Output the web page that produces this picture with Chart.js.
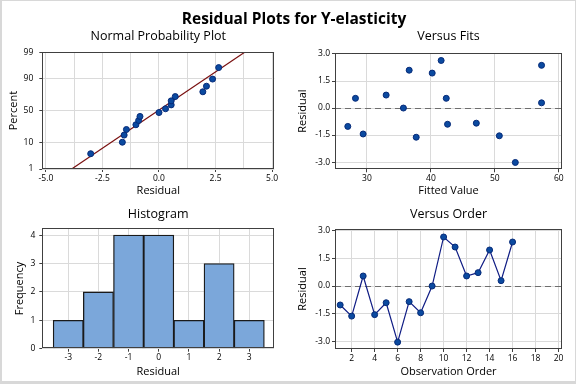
<!DOCTYPE html>
<html>
<head>
<meta charset="utf-8">
<script src="https://cdn.jsdelivr.net/npm/chart.js@4.4.1/dist/chart.umd.min.js"></script>
<style>
  html, body { margin: 0; padding: 0; background: #fff; }
  #wrap { position: relative; width: 576px; height: 384px; overflow: hidden; font-family: 'Open Sans', sans-serif; }
  #frame { position: absolute; left: 0; top: 0; width: 576px; height: 384px; box-sizing: border-box;
           border: 1px solid #d8d8d8; border-left-width: 2px; border-bottom-width: 3px; pointer-events: none; }
  #title { position: absolute; left: 6px; top: 9px; width: 576px; text-align: center;
           font-size: 15.5px; font-weight: bold; line-height: 18px; color: #000; }
  canvas { position: absolute; }
</style>
</head>
<body>
<div id="wrap">
  <canvas id="normChart" width="288" height="200" style="left:0;top:0"></canvas>
  <canvas id="fitsChart" width="288" height="200" style="left:288px;top:0"></canvas>
  <canvas id="histChart" width="288" height="190" style="left:0;top:194px"></canvas>
  <canvas id="orderChart" width="288" height="190" style="left:288px;top:194px"></canvas>
  <div id="title">Residual Plots for Y-elasticity</div>
  <div id="frame"></div>
</div>
<script>
// residuals in observation order, and the fitted value of each observation
const observation = [1, 2, 3, 4, 5, 6, 7, 8, 9, 10, 11, 12, 13, 14, 15, 16];
const residuals = [-1.02, -1.62, 0.54, -1.54, -0.90, -3.02, -0.84, -1.44, 0.00, 2.64, 2.10, 0.54, 0.72, 1.94, 0.29, 2.37];
const fitted = [27.0, 37.7, 28.2, 50.7, 42.6, 53.2, 47.1, 29.4, 35.7, 41.6, 36.6, 42.4, 33.0, 40.2, 57.3, 57.3];

// normal probability plot: percent of each sorted residual, and the fitted line
const normPercent = [4.3, 10.4, 16.5, 22.6, 28.7, 34.8, 40.9, 47.0, 53.0, 59.1, 65.2, 71.3, 77.4, 83.5, 89.6, 95.7];
const fitLineResid = [-3.9, 3.85];
const fitLinePercent = [0.94, 99.1];
const normYTicks = [1, 10, 50, 90, 99];
const normXTicks = [-5.0, -3.75, -2.5, -1.25, 0.0, 1.25, 2.5, 3.75, 5.0];

// histogram
const histMid = [-3, -2, -1, 0, 1, 2, 3];
const histCount = [1, 2, 4, 4, 1, 3, 1];
const histYTicks = [0, 1, 2, 3, 4];

const residTicks = [-3.0, -1.5, 0.0, 1.5, 3.0];
const fitsXTicks = [30, 40, 50, 60];
const orderXTicks = [2, 4, 6, 8, 10, 12, 14, 16, 18, 20];

Chart.defaults.font.family = "'Open Sans', sans-serif";
Chart.defaults.color = '#000';

// inverse of the normal cdf, for the probability axis
function probit(pct) {
  const p = pct / 100;
  const a = [-39.69683028665376, 220.9460984245205, -275.9285104469687, 138.3577518672690, -30.66479806614716, 2.506628277459239];
  const b = [-54.47609879822406, 161.5858368580409, -155.6989798598866, 66.80131188771972, -13.28068155288572];
  const c = [-7.784894002430293e-03, -0.3223964580411365, -2.400758277161838, -2.549732539343734, 4.374664141464968, 2.938163982698783];
  const d = [7.784695709041462e-03, 0.3224671290700398, 2.445134137142996, 3.754408661907416];
  const pl = 0.02425;
  let q, r;
  if (p < pl) {
    q = Math.sqrt(-2 * Math.log(p));
    return (((((c[0]*q+c[1])*q+c[2])*q+c[3])*q+c[4])*q+c[5]) / ((((d[0]*q+d[1])*q+d[2])*q+d[3])*q+1);
  }
  if (p > 1 - pl) {
    q = Math.sqrt(-2 * Math.log(1 - p));
    return -(((((c[0]*q+c[1])*q+c[2])*q+c[3])*q+c[4])*q+c[5]) / ((((d[0]*q+d[1])*q+d[2])*q+d[3])*q+1);
  }
  q = p - 0.5; r = q * q;
  return (((((a[0]*r+a[1])*r+a[2])*r+a[3])*r+a[4])*r+a[5])*q / (((((b[0]*r+b[1])*r+b[2])*r+b[3])*r+b[4])*r+1);
}

// dark box round the plot area
const framePlugin = {
  id: 'frame',
  afterDraw(chart) {
    const { ctx, chartArea: a } = chart;
    ctx.save();
    ctx.strokeStyle = '#404040';
    ctx.lineWidth = 1;
    ctx.strokeRect(Math.round(a.left) + 0.5, Math.round(a.top) + 0.5, Math.round(a.width) - 1, Math.round(a.height) - 1);
    ctx.restore();
  }
};

// dashed reference line at residual 0
const zeroPlugin = {
  id: 'zero',
  beforeDatasetsDraw(chart) {
    const { ctx, chartArea: a, scales } = chart;
    const y = Math.round(scales.y.getPixelForValue(0)) + 0.5;
    ctx.save();
    ctx.strokeStyle = '#6e6e6e';
    ctx.lineWidth = 1.2;
    ctx.setLineDash([6, 4]);
    ctx.beginPath();
    ctx.moveTo(a.left, y);
    ctx.lineTo(a.right, y);
    ctx.stroke();
    ctx.restore();
  }
};

function axis(o) {
  return {
    type: 'linear',
    min: o.min,
    max: o.max,
    offset: false,
    border: { display: false },
    grid: {
      color: '#dadada',
      lineWidth: 1,
      tickLength: 3,
      offset: false,
      tickColor: o.tickColor || '#404040'
    },
    ticks: {
      autoSkip: false,
      maxRotation: 0,
      padding: o.tickPad,
      font: { size: 8.5 },
      callback: o.fmt
    },
    title: {
      display: true,
      text: o.title,
      font: { size: 11 },
      padding: o.titlePad
    },
    afterBuildTicks: s => { s.ticks = o.ticks.map(v => ({ value: v })); },
    afterFit: s => { if (o.width) s.width = o.width; if (o.height) s.height = o.height; }
  };
}

function panelTitle(text, top, bottom) {
  return {
    display: true,
    fullSize: false,
    text: text,
    color: '#000',
    font: { size: 12.5, weight: 'normal' },
    padding: { top: top, bottom: bottom }
  };
}

const pointStyle = {
  pointRadius: 3,
  pointHoverRadius: 3,
  pointBackgroundColor: '#0b4aa0',
  pointBorderColor: '#062a78',
  pointBorderWidth: 1
};

const sortedResid = [...residuals].sort((p, q) => p - q);

new Chart(document.getElementById('normChart'), {
  type: 'scatter',
  data: {
    datasets: [{
      data: fitLineResid.map((x, i) => ({ x: x, y: probit(fitLinePercent[i]) })),
      showLine: true,
      borderColor: '#7a1010',
      borderWidth: 1.2,
      pointRadius: 0,
      order: 2
    }, {
      data: sortedResid.map((x, i) => ({ x: x, y: probit(normPercent[i]) })),
      ...pointStyle,
      order: 1
    }]
  },
  options: {
    responsive: false,
    animation: false,
    devicePixelRatio: 1,
    layout: { padding: { left: 0, right: 13.7, top: 0, bottom: 0 } },
    plugins: {
      legend: { display: false },
      tooltip: { enabled: false },
      title: panelTitle('Normal Probability Plot', 28.6, 8.7)
    },
    scales: {
      x: axis({ min: -5.16, max: 5.1, ticks: normXTicks, title: 'Residual', height: 31, tickPad: 1,
                titlePad: { top: 0, bottom: 2.4 },
                fmt: v => (Math.abs(v) % 2.5 === 0 ? v.toFixed(1) : ''),
                tickColor: c => (Math.abs(c.tick.value) % 2.5 === 0 ? '#404040' : 'rgba(0,0,0,0)') }),
      y: axis({ min: probit(1), max: probit(99), ticks: normYTicks.map(probit), title: 'Percent', width: 42.3, tickPad: 6,
                titlePad: { top: 7, bottom: 0 },
                fmt: (v, i) => String(normYTicks[i]) })
    }
  },
  plugins: [framePlugin]
});

new Chart(document.getElementById('fitsChart'), {
  type: 'scatter',
  data: {
    datasets: [{
      data: fitted.map((x, i) => ({ x: x, y: residuals[i] })),
      ...pointStyle
    }]
  },
  options: {
    responsive: false,
    animation: false,
    devicePixelRatio: 1,
    layout: { padding: { left: 0, right: 14, top: 0, bottom: 0 } },
    plugins: {
      legend: { display: false },
      tooltip: { enabled: false },
      title: panelTitle('Versus Fits', 28.8, 9.2)
    },
    scales: {
      x: axis({ min: 25.0, max: 60.5, ticks: fitsXTicks, title: 'Fitted Value', height: 30.7, tickPad: 1,
                titlePad: { top: 0, bottom: 2.4 }, fmt: v => String(v) }),
      y: axis({ min: -3.4, max: 3.055, ticks: residTicks, title: 'Residual', width: 47, tickPad: 2,
                titlePad: { top: 8.2, bottom: 0 }, fmt: v => v.toFixed(1) })
    }
  },
  plugins: [zeroPlugin, framePlugin]
});

new Chart(document.getElementById('histChart'), {
  type: 'bar',
  data: {
    datasets: [{
      data: histMid.map((x, i) => ({ x: x, y: histCount[i] })),
      backgroundColor: '#7ba7da',
      borderColor: '#1a1a1a',
      borderWidth: 1.3,
      barPercentage: 1,
      categoryPercentage: 1
    }]
  },
  options: {
    responsive: false,
    animation: false,
    devicePixelRatio: 1,
    layout: { padding: { left: 0, right: 14, top: 0, bottom: 0 } },
    plugins: {
      legend: { display: false },
      tooltip: { enabled: false },
      title: panelTitle('Histogram', 13.1, 6.2)
    },
    scales: {
      x: axis({ min: -3.86, max: 3.82, ticks: histMid, title: 'Residual', height: 35.3, tickPad: 1,
                titlePad: { top: 0, bottom: 6 }, fmt: v => String(v) }),
      y: axis({ min: 0, max: 4.24, ticks: histYTicks, title: 'Frequency', width: 42.3, tickPad: 4,
                titlePad: { top: 13, bottom: 0 }, fmt: v => String(v) })
    }
  },
  plugins: [framePlugin]
});

new Chart(document.getElementById('orderChart'), {
  type: 'scatter',
  data: {
    datasets: [{
      data: observation.map((x, i) => ({ x: x, y: residuals[i] })),
      showLine: true,
      borderColor: '#0f1c84',
      borderWidth: 1.2,
      ...pointStyle
    }]
  },
  options: {
    responsive: false,
    animation: false,
    devicePixelRatio: 1,
    layout: { padding: { left: 0, right: 14, top: 0, bottom: 0 } },
    plugins: {
      legend: { display: false },
      tooltip: { enabled: false },
      title: panelTitle('Versus Order', 13.1, 6.9)
    },
    scales: {
      x: axis({ min: 0.55, max: 20.3, ticks: orderXTicks, title: 'Observation Order', height: 35, tickPad: 1,
                titlePad: { top: 0, bottom: 6 }, fmt: v => String(v) }),
      y: axis({ min: -3.39, max: 3.07, ticks: residTicks, title: 'Residual', width: 47, tickPad: 2,
                titlePad: { top: 8.2, bottom: 0 }, fmt: v => v.toFixed(1) })
    }
  },
  plugins: [zeroPlugin, framePlugin]
});
</script>
</body>
</html>
